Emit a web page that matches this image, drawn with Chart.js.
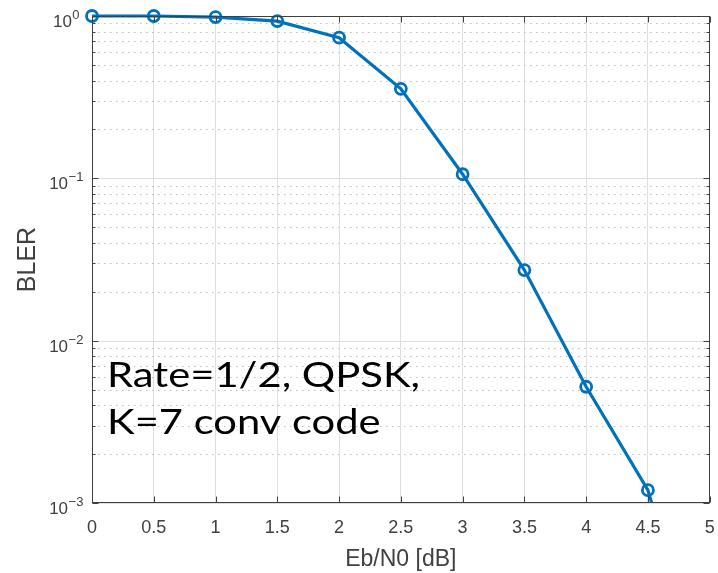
<!DOCTYPE html>
<html>
<head>
<meta charset="utf-8">
<script src="https://cdn.jsdelivr.net/npm/chart.js@4.4.1/dist/chart.umd.min.js"></script>
<style>
  html, body { margin: 0; padding: 0; background: #fff; }
</style>
</head>
<body>
<canvas id="blerChart" width="718" height="573"></canvas>
<script>
// Eb/N0 sweep and BLER (last point runs off the bottom)
const ebn0 = [0, 0.5, 1, 1.5, 2, 2.5, 3, 3.5, 4, 4.5, 5];
const bler = [1.0, 1.0, 0.985, 0.93, 0.735, 0.356, 0.106, 0.0272, 0.0052, 0.0012, 0.00006];

// Axis ticks
const xTickValues = [0, 0.5, 1, 1.5, 2, 2.5, 3, 3.5, 4, 4.5, 5];
const xTickLabels = ["0", "0.5", "1", "1.5", "2", "2.5", "3", "3.5", "4", "4.5", "5"];
const yTickValues = [1e-3, 1e-2, 1e-1, 1];
const yTickExponents = ["\u22123", "\u22122", "\u22121", "0"];
const yMinorSteps = [2, 3, 4, 5, 6, 7, 8, 9];

// Text box laid over the plot
const noteLines = ["Rate=1/2, QPSK,", "K=7 conv code"];

const AXIS_COLOR = "#404040";
const LINE_COLOR = "#0072BD";

// MATLAB-ish axes: log grid, inward ticks, box, 10^n labels, note
const matlabAxes = {
  id: "matlabAxes",
  beforeDatasetsDraw(chart) {
    const { ctx, chartArea: a, scales: { y } } = chart;
    ctx.save();
    ctx.lineWidth = 1;

    // minor dotted lines
    ctx.strokeStyle = "#bdbdbd";
    ctx.setLineDash([1.5, 4.5]);
    yTickValues.slice(0, -1).forEach(base => {
      yMinorSteps.forEach(m => {
        const py = Math.round(y.getPixelForValue(base * m)) + 0.5;
        ctx.beginPath();
        ctx.moveTo(a.left, py);
        ctx.lineTo(a.right, py);
        ctx.stroke();
      });
    });

    // decade lines
    ctx.setLineDash([]);
    ctx.strokeStyle = "#dedede";
    yTickValues.forEach(v => {
      const py = Math.round(y.getPixelForValue(v)) + 0.5;
      ctx.beginPath();
      ctx.moveTo(a.left, py);
      ctx.lineTo(a.right, py);
      ctx.stroke();
    });
    ctx.restore();
  },
  afterDatasetsDraw(chart) {
    const { ctx, chartArea: a, scales: { x, y } } = chart;
    const L = Math.round(a.left) + 0.5;
    const R = Math.round(a.right) - 0.5;
    const T = Math.round(a.top) + 0.5;
    const B = Math.round(a.bottom) - 0.5;

    ctx.save();
    ctx.strokeStyle = AXIS_COLOR;
    ctx.lineWidth = 1;
    ctx.strokeRect(L, T, R - L, B - T);

    ctx.beginPath();
    xTickValues.forEach(v => {
      const px = Math.round(x.getPixelForValue(v)) + 0.5;
      ctx.moveTo(px, B); ctx.lineTo(px, B - 6);
      ctx.moveTo(px, T); ctx.lineTo(px, T + 6);
    });
    yTickValues.forEach((base, i) => {
      const py = Math.round(y.getPixelForValue(base)) + 0.5;
      ctx.moveTo(L, py); ctx.lineTo(L + 6, py);
      ctx.moveTo(R, py); ctx.lineTo(R - 6, py);
      if (i < yTickValues.length - 1) {
        yMinorSteps.forEach(m => {
          const pm = Math.round(y.getPixelForValue(base * m)) + 0.5;
          ctx.moveTo(L, pm); ctx.lineTo(L + 3, pm);
          ctx.moveTo(R, pm); ctx.lineTo(R - 3, pm);
        });
      }
    });
    ctx.stroke();

    // y labels as 10 with a raised exponent
    ctx.fillStyle = AXIS_COLOR;
    ctx.textBaseline = "alphabetic";
    ctx.textAlign = "left";
    yTickValues.forEach((v, i) => {
      const py = y.getPixelForValue(v);
      ctx.font = "17px 'Liberation Sans'";
      const wBase = ctx.measureText("10").width;
      ctx.font = "13px 'Liberation Sans'";
      const wExp = ctx.measureText(yTickExponents[i]).width;
      const x0 = 66 - (wBase + wExp) / 2;
      ctx.font = "17px 'Liberation Sans'";
      ctx.fillText("10", x0, py + 11);
      ctx.font = "13px 'Liberation Sans'";
      ctx.fillText(yTickExponents[i], x0 + wBase + 0.5, py + 3);
    });
    ctx.restore();
  },
  afterDraw(chart) {
    const { ctx, chartArea: a } = chart;
    ctx.save();
    ctx.fillStyle = "#000";
    ctx.font = "34px Lato";
    ctx.textBaseline = "alphabetic";
    ctx.textAlign = "left";
    const sx = 313 / ctx.measureText(noteLines[0]).width;
    noteLines.forEach((line, i) => {
      ctx.save();
      ctx.translate(a.left + 15, 387 + i * 47);
      ctx.scale(sx, 1);
      ctx.fillText(line, 0, 0);
      ctx.restore();
    });
    ctx.restore();
  }
};

const ctx = document.getElementById("blerChart").getContext("2d");
const blerChart = new Chart(ctx, {
  type: "line",
  data: {
    labels: ebn0,
    datasets: [{
      label: "BLER",
      data: ebn0.map((v, i) => ({ x: v, y: bler[i] })),
      borderColor: LINE_COLOR,
      borderWidth: 3.2,
      tension: 0,
      pointStyle: "circle",
      pointRadius: 5.5,
      pointBorderWidth: 2.8,
      pointBorderColor: LINE_COLOR,
      pointBackgroundColor: "rgba(0,0,0,0)",
      clip: { left: 10, top: 10, right: 10, bottom: 0 }
    }]
  },
  options: {
    responsive: false,
    animation: false,
    devicePixelRatio: 1,
    layout: { padding: { top: 16, right: 6, left: 0, bottom: 0 } },
    plugins: {
      legend: { display: false },
      tooltip: { enabled: false }
    },
    scales: {
      x: {
        type: "linear",
        min: 0,
        max: 5,
        afterBuildTicks: s => { s.ticks = xTickValues.map(v => ({ value: v })); },
        afterFit: s => { s.height = 70; s.paddingLeft = 0; s.paddingRight = 0; },
        ticks: {
          padding: 14,
          color: AXIS_COLOR,
          font: { family: "'Liberation Sans'", size: 18 },
          callback: v => xTickLabels[xTickValues.indexOf(v)]
        },
        grid: { color: "#dedede", lineWidth: 1, drawTicks: false },
        border: { display: false },
        title: {
          display: true,
          text: "Eb/N0 [dB]",
          color: AXIS_COLOR,
          font: { family: "'Liberation Sans'", size: 23 },
          padding: { top: 0, bottom: 0 }
        }
      },
      y: {
        type: "logarithmic",
        min: 1e-3,
        max: 1,
        afterFit: s => { s.width = 92; },
        ticks: { display: false },
        grid: { display: false },
        border: { display: false },
        title: {
          display: true,
          text: "BLER",
          color: AXIS_COLOR,
          font: { family: "'Liberation Sans'", size: 25 },
          padding: { top: 13, bottom: 0 }
        }
      }
    }
  },
  plugins: [matlabAxes]
});
</script>
</body>
</html>
